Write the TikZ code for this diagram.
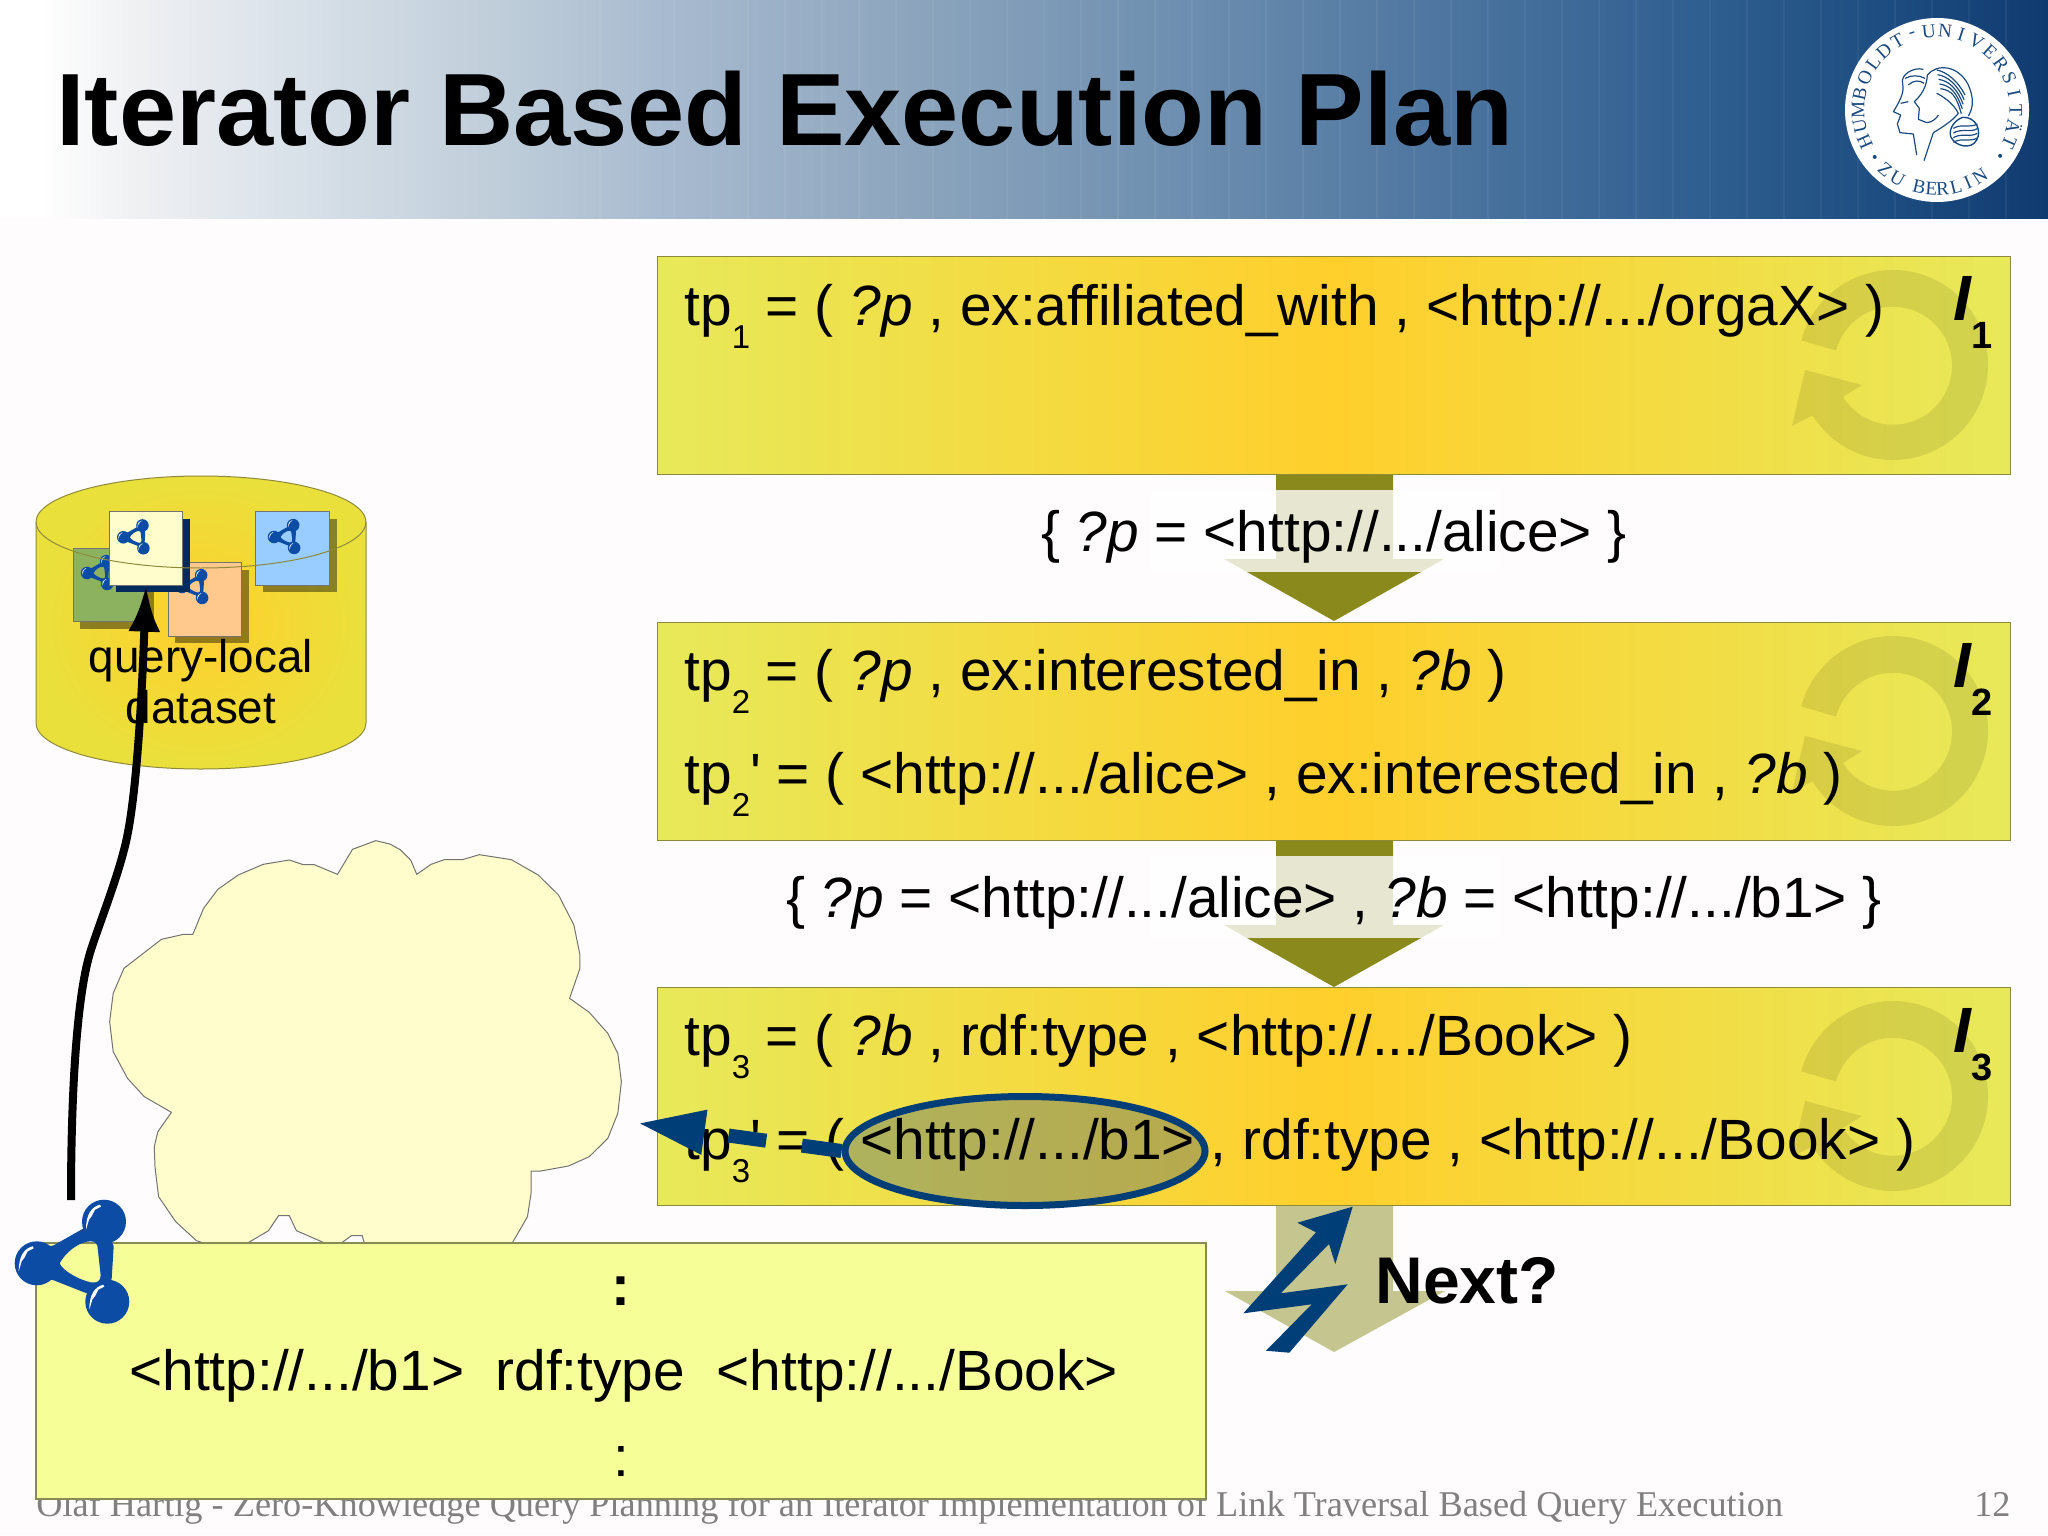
\documentclass[tikz,border=0pt]{standalone}
\usepackage{fontspec}
\setmainfont{Liberation Sans}
\newfontfamily\serifft{Liberation Serif}
\usetikzlibrary{arrows.meta,shapes.geometric}
\definecolor{pagebg}{HTML}{FEFCFC}
\definecolor{boxedge}{HTML}{8E8A3C}
\definecolor{boxside}{HTML}{E7E95A}
\definecolor{boxmid}{HTML}{FFCF2C}
\definecolor{cylside}{HTML}{EAE03C}
\definecolor{olive}{HTML}{8A8A1C}
\definecolor{tan}{HTML}{C5C58F}
\definecolor{navy}{HTML}{003E78}
\definecolor{ballblue}{HTML}{0D4CA5}
\definecolor{pale}{HTML}{F6FE98}
\definecolor{cloudfill}{HTML}{FFFDCB}
\definecolor{sealblue}{HTML}{1B4A80}
\definecolor{docblue}{HTML}{99CCFF}
\definecolor{docgreen}{HTML}{8DB25F}
\definecolor{docorange}{HTML}{FFC98E}
\definecolor{docnavy}{HTML}{002B5C}
\definecolor{bnA}{HTML}{F0F1F3}
\definecolor{bnB}{HTML}{DDE4EB}
\definecolor{bnC}{HTML}{BCCBD8}
\definecolor{bnD}{HTML}{A9BBD0}
\definecolor{bnE}{HTML}{8CA5BD}
\definecolor{bnF}{HTML}{6E8FB0}
\definecolor{bnG}{HTML}{4E76A0}
\definecolor{bnH}{HTML}{2F5E90}
\definecolor{bnI}{HTML}{1D4C80}
\definecolor{bnJ}{HTML}{0F3A70}
\pgfdeclarehorizontalshading{bannershade}{100bp}{
 color(0bp)=(white); color(26bp)=(white); color(28.2bp)=(bnA); color(31.4bp)=(bnB);
 color(37.8bp)=(bnC); color(41bp)=(bnD); color(47.3bp)=(bnE); color(53.7bp)=(bnF);
 color(60bp)=(bnG); color(66.5bp)=(bnH); color(71.2bp)=(bnI); color(75bp)=(bnJ); color(100bp)=(bnJ)}
\tikzset{
 txt/.style={anchor=base west,inner sep=0pt,font=\fontsize{28.4}{34}\selectfont},
 midtxt/.style={anchor=base,inner sep=0pt,font=\fontsize{28.4}{34}\selectfont},
 planbox/.style={draw=boxedge,line width=.6pt,left color=boxside,right color=boxside,middle color=boxmid,
   minimum width=676.5pt,minimum height=109pt,inner sep=0pt},
 ringfill/.style={fill=black!50!olive,fill opacity=.13},
 docsquare/.style={draw=black!55,line width=.4pt,minimum size=36.75pt,inner sep=0pt},
 sealletter/.style={inner sep=0pt,text=sealblue,font=\serifft\fontsize{9.6}{9.6}\selectfont},
}
\newcommand{\tps}[1]{tp\raisebox{-11.5pt}{\fontsize{16.5}{16.5}\selectfont #1}}
\newcommand{\rdficon}[3]{%
 \begin{scope}[shift={(#1,#2)},scale=#3]
  \fill[ballblue,even odd rule] (0,-14)--(17,-18)--(47,-35)--(67,-41)--(77,-17)--(75,15)--(70,38)--(50,30)--(17,17)--(0,14)--cycle
    (23,0) .. controls (28,-10) and (42,-22) .. (54,-22) .. controls (59,-22) and (61,-19) .. (61,-15) -- (64,12) .. controls (64,18) and (60,20) .. (54,19) .. controls (44,17) and (26,8) .. (23,0) -- cycle;
  \foreach \bx/\by in {0/0,67.3/-41.6,70.6/38.4}{
   \fill[ballblue] (\bx,\by) circle[radius=11pt];
   \fill[white,shift={(\bx,\by)}] (-18,8) .. controls (-18,-8) and (-12,-15) .. (-4,-17) -- (-3,-15) -- (-9,-12) -- (-12,-6) -- (-15,-2) -- cycle;
  }
 \end{scope}}
\newcommand{\ringmark}[2]{%
 \path[ringfill] (#1,#2) ++(-165:47.5pt) arc[start angle=-165,end angle=148,radius=47.5pt]
   -- ({#1-101},{#2+61}) -- ({#1-88},{#2+5}) -- ({#1-31},{#2+20}) -- ({#1-50},{#2+32})
   arc[start angle=148,end angle=-165,radius=29.5pt] -- cycle;}
\begin{document}
\begin{tikzpicture}[x=.5pt,y=.5pt,yscale=-1]
\useasboundingbox (0,0) rectangle (2048,1535);
\fill[pagebg] (0,0) rectangle (2048,1535);
% banner
\shade[shading=bannershade] (0,0) rectangle (2048,219);
\foreach \lx in {600,637,...,2040}{\draw[white,opacity=.05,line width=.7pt] (\lx,0)--(\lx,219);}
% seal
\fill[white] (1937,110) circle[radius=46pt];
\foreach \ch [count=\i] in {H,U,M,B,O,L,D,T,-,U,N,I,V,E,R,S,I,T,Ä,T}{
 \pgfmathsetmacro\ang{204-12*(\i-1)}
 \node[sealletter,rotate=\ang-90] at ({1937+79*cos(\ang)},{110-79*sin(\ang)}) {\ch};
}
\foreach \ch/\ang in {Z/229,U/240,B/257,E/266,R/274,L/284,I/293,N/303}{
 \node[sealletter,rotate=\ang-270] at ({1937+79*cos(\ang)},{110-79*sin(\ang)}) {\ch};
}
\foreach \ang in {217,324}{\fill[sealblue] ({1937+78*cos(\ang)},{110-78*sin(\ang)}) circle[radius=1pt];}
\begin{scope}[shift={(1780,0)},xscale=1/3,yscale=1/3,draw=sealblue,line width=.6pt,line join=round]
 % left profile
 \draw (368,250) .. controls (372,270) and (368,290) .. (340,335) -- (362,345) -- (352,372) -- (360,398) -- (400,402) -- (410,465);
 \draw (368,250) .. controls (360,225) and (400,200) .. (430,208);
 \draw (375,235) .. controls (395,225) and (415,225) .. (435,235);
 \draw (385,255) .. controls (400,240) and (420,240) .. (432,250);
 \draw (362,310) -- (385,305);
 % right profile
 \draw (442,225) .. controls (440,260) and (425,285) .. (403,305) -- (418,325) -- (415,358) -- (440,368) .. controls (455,368) and (470,355) .. (475,345);
 \draw (460,398) -- (432,482);
 \draw (460,398) .. controls (490,380) and (520,360) .. (535,340);
 \draw (442,225) .. controls (470,190) and (535,195) .. (565,255) .. controls (580,290) and (582,320) .. (565,348);
 \foreach \sh in {0,14,28,42,56}{
  \draw ({470+\sh*.2},{210+\sh}) .. controls ({500+\sh*.3},{215+\sh}) and ({535-\sh*.1},{245+\sh*.8}) .. ({555-\sh*.2},{285+\sh});
 }
 \draw (470,280) .. controls (490,290) and (520,310) .. (535,340);
 \draw[line width=.7pt] (548,352) .. controls (590,350) and (605,395) .. (590,420) .. controls (575,450) and (525,440) .. (512,410) .. controls (505,385) and (525,360) .. (548,352);
 \foreach \sh in {0,14,28,42}{\draw (520,{385+\sh}) .. controls (545,{370+\sh}) and (570,{385+\sh}) .. (592,{372+\sh});}
\end{scope}
\node[anchor=base west,inner sep=0pt,font=\fontsize{51.4}{60}\selectfont\bfseries] (title) at (56,146) {Iterator Based Execution Plan};
% footer
\node[anchor=base west,inner sep=0pt,text=black!50,font=\serifft\fontsize{18.14}{22}\selectfont] (foot) at (36,1516)
 {Olaf Hartig - Zero-Knowledge Query Planning for an Iterator Implementation of Link Traversal Based Query Execution};
\node[anchor=base east,inner sep=0pt,text=black!50,font=\serifft\fontsize{18.14}{22}\selectfont] (pageno) at (2011,1516) {12};
% block arrows
\foreach \dy in {0,366}{
 \fill[olive] (1276,{474+\dy}) -- (1393,{474+\dy}) -- (1393,{559+\dy}) -- (1444,{559+\dy}) -- (1334,{621+\dy}) -- (1224,{559+\dy}) -- (1276,{559+\dy}) -- cycle;
 \fill[white,opacity=.8] (1150,{490+\dy}) rectangle (1500,{572+\dy});
}
\fill[tan] (1276,1205) -- (1393,1205) -- (1393,1291) -- (1445,1291) -- (1334,1352) -- (1225,1291) -- (1276,1291) -- cycle;
% plan boxes
\node[planbox] (box1) at (1334,365.5) {};
\node[planbox] (box2) at (1334,731.5) {};
\node[planbox] (box3) at (1334,1096.5) {};
\ringmark{1893}{365}
\ringmark{1893}{731}
\ringmark{1893}{1096}
% highlighted ellipse
\node[ellipse,fill=sealblue!80!gray,fill opacity=.33,minimum width=180pt,minimum height=54.5pt,inner sep=0pt] (ellfill) at (1025,1151) {};
% box text
\node[txt] (t1) at (684,325.3) {\tps{1} = ( \textit{?p} , ex:affiliated\_with , <http://.../orgaX> )};
\node[txt] (t2) at (684,690.8) {\tps{2} = ( \textit{?p} , ex:interested\_in , \textit{?b} )};
\node[txt] (t2b) at (684,793.8) {\tps{2}\textquotesingle{} = ( <http://.../alice> , ex:interested\_in , \textit{?b} )};
\node[txt] (t3) at (684,1055.8) {\tps{3} = ( \textit{?b} , rdf:type , <http://.../Book> )};
\node[txt] (t3b) at (684,1159.8) {\tps{3}\textquotesingle{} = ( <http://.../b1> , rdf:type , <http://.../Book> )};
\node[midtxt] (l1) at (1334,551) {\{ \textit{?p} = <http://.../alice> \}};
\node[midtxt] (l2) at (1334,917) {\{ \textit{?p} = <http://.../alice> , \textit{?b} = <http://.../b1> \}};
% iterators
\foreach \dy/\n in {0/1,366/2,731/3}{
 \node[anchor=base west,inner sep=0pt,font=\fontsize{32}{32}\selectfont\bfseries\itshape] at (1953,{321+\dy}) {I};
 \node[anchor=base west,inner sep=0pt,font=\fontsize{19}{19}\selectfont\bfseries] at (1971,{349+\dy}) {\n};
}
% ellipse outline and dashed arrow
\node[ellipse,draw=navy,line width=3.5pt,minimum width=180pt,minimum height=54.5pt,inner sep=0pt] (ell) at (1025,1151) {};
\coordinate (lookup) at (637,1123);
\draw[navy,line width=7pt,dash pattern=on 20pt off 18pt on 19pt off 60pt,-{Triangle[length=34pt,width=20.5pt]}] (ell.west) -- (lookup);
% lightning and Next
\fill[navy] (1352.7,1206.7) -- (1297.3,1222.7) -- (1316,1232.3) -- (1243.3,1313.3) -- (1311.7,1304.3) -- (1266,1350.7) -- (1289.3,1352.7) -- (1347.7,1284.3) -- (1280.7,1293.3) -- (1329,1244) -- (1335.3,1264) -- cycle;
\node[anchor=base west,inner sep=0pt,font=\fontsize{33}{33}\selectfont\bfseries] (next) at (1375,1303) {Next?};
% cloud
\begin{scope}[shift={(90,820)},xscale=1/2.8,yscale=1/3]
\filldraw[fill=cloudfill,draw=black!55,line width=.5pt] (693,163)--(735,88)--(800,62)--(840,72)--(870,90)--(898,120)--(915,163)--(955,133)--(992,119)--(1043,119)--(1090,104)--(1180,119)--(1255,165)--(1312,225)--(1355,315)--(1372,405)--(1372,445)--(1343,535)--(1398,577)--(1450,640)--(1478,700)--(1488,785)--(1478,880)--(1450,955)--(1398,1010)--(1340,1038)--(1262,1053)--(1235,1053)--(1235,1120)--(1225,1190)--(1183,1268)--(768,1268)--(762,1247)--(732,1247)--(705,1268)--(655,1268)--(578,1232)--(558,1187)--(528,1187)--(500,1232)--(443,1268)--(315,1268)--(298,1262)--(240,1205)--(192,1130)--(182,1040)--(180,980)--(190,935)--(228,877)--(152,830)--(105,775)--(65,695)--(55,605)--(65,520)--(95,445)--(200,358)--(262,343)--(288,343)--(318,265)--(358,208)--(415,165)--(485,133)--(558,120)--(597,134)--(628,134)--cycle;
\end{scope}
% bottom box
\node[draw=black!45!pale,line width=.6pt,fill=pale,minimum width=585pt,minimum height=128pt,inner sep=0pt] (doc) at (621,1371) {};
\node[midtxt,font=\fontsize{28.4}{34}\selectfont\bfseries] (c1) at (621,1305) {:};
\node[txt] (triple) at (129,1390) {<http://.../b1>\ \ rdf:type\ \ <http://.../Book>};
\node[midtxt] (c2) at (621,1476) {:};
% cylinder
\shade[shading=radial,inner color=boxmid,outer color=cylside] (36,522) arc[start angle=180,end angle=360,x radius=82.5pt,y radius=23pt] -- (366,723) arc[start angle=0,end angle=180,x radius=82.5pt,y radius=23pt] -- cycle;
\draw[boxedge,line width=.5pt] (36,522) arc[start angle=180,end angle=360,x radius=82.5pt,y radius=23pt] -- (366,723) arc[start angle=0,end angle=180,x radius=82.5pt,y radius=23pt] -- cycle;
% dataset documents
\fill[black,opacity=.42] (263,519) rectangle (337,592);
\node[docsquare,fill=docblue] (dblue) at (292.5,548.5) {};
\rdficon{274}{537}{.285}
\fill[black,opacity=.42] (80,555) rectangle (154,629);
\node[docsquare,fill=docgreen] (dgreen) at (110,585) {};
\rdficon{87}{573}{.285}
\fill[black,opacity=.42] (175,570) rectangle (249,643);
\node[docsquare,fill=docorange] (dorange) at (205,599.5) {};
\rdficon{182}{587}{.285}
\fill[docnavy] (116,519) rectangle (190,592);
\node[docsquare,fill=cloudfill] (docfront) at (146,548.5) {};
\rdficon{123.3}{537.3}{.285}
\draw[boxedge,line width=.5pt] (36,522) arc[start angle=180,end angle=0,x radius=82.5pt,y radius=23pt];
\node[midtxt,font=\fontsize{22.9}{27}\selectfont] (ql1) at (201,672) {query-local};
\node[midtxt,font=\fontsize{22.9}{27}\selectfont] (ql2) at (201,723) {dataset};
% large icon and fetch arrow
\rdficon{36.7}{1263.3}{1}
\coordinate (fetchstart) at (71,1200);
\draw[line width=4pt,-{Latex[length=23pt,width=16pt]}] (fetchstart) .. controls (71,1100) and (76,1000) .. (90,953) .. controls (97,930) and (115,885) .. (124,850) .. controls (135,810) and (141,720) .. (docfront.south);
\end{tikzpicture}
\end{document}
